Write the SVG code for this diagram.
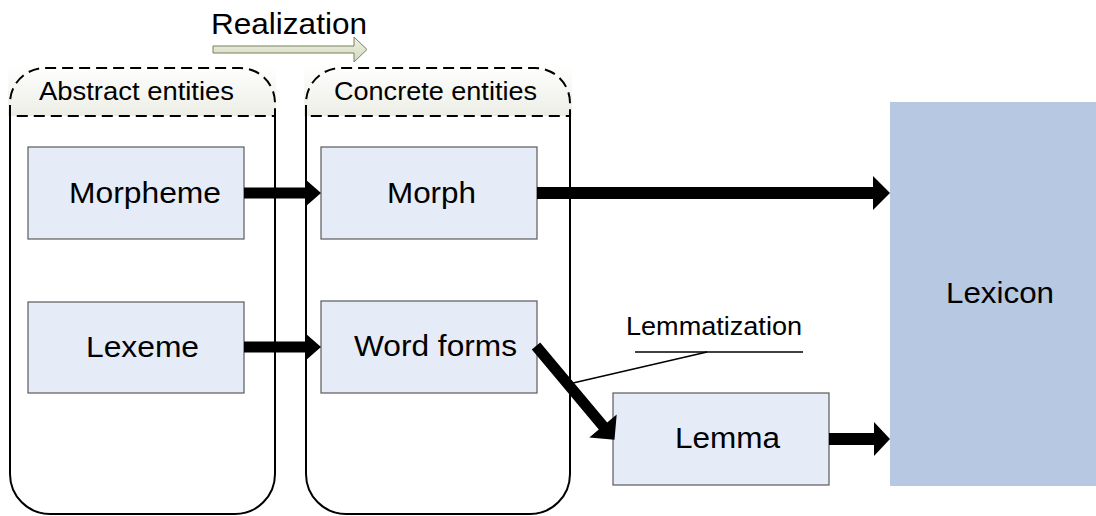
<svg xmlns="http://www.w3.org/2000/svg" width="1096" height="516" viewBox="0 0 1096 516">
  <defs>
    <linearGradient id="hdr" x1="0" y1="0" x2="0" y2="1">
      <stop offset="0" stop-color="#ffffff"/>
      <stop offset="1" stop-color="#eceee6"/>
    </linearGradient>
    <linearGradient id="real" x1="0" y1="0" x2="0" y2="1">
      <stop offset="0" stop-color="#eef1e4"/>
      <stop offset="1" stop-color="#d3dabd"/>
    </linearGradient>
  </defs>
  <style>
    text { font-family: "Liberation Sans", Arial, sans-serif; fill: #000; }
    .big { font-size: 29px; }
    .mid { font-size: 25px; }
    .cont { fill: none; stroke: #000; stroke-width: 2; }
    .hdash { fill: none; stroke: #000; stroke-width: 2; stroke-dasharray: 11 6; }
    .box { fill: #e5ecf7; stroke: #5a5a5a; stroke-width: 1.2; }
    .arrow { fill: #000; }
  </style>

  <g id="realization">
    <polygon points="213,46 354,46 354,37 367,49.5 354,62 354,53 213,53" fill="url(#real)" stroke="#76805e" stroke-width="1"/>
    <text class="big" x="211" y="34" textLength="156" lengthAdjust="spacingAndGlyphs">Realization</text>
  </g>

  <g id="abstract-container">
    <rect x="8" y="66" width="268" height="50" fill="url(#hdr)"/>
    <path class="hdash" d="M10,116 L10,103 A35,35 0 0 1 45,68 L240,68 A35,35 0 0 1 275,103 L275,116 Z"/>
    <path class="cont" d="M10,116 L10,474 A40,40 0 0 0 50,514 L235,514 A40,40 0 0 0 275,474 L275,116"/>
    <text class="mid" x="39" y="100" textLength="195" lengthAdjust="spacingAndGlyphs">Abstract entities</text>
  </g>

  <g id="concrete-container">
    <rect x="304" y="66" width="268" height="50" fill="url(#hdr)"/>
    <path class="hdash" d="M306,116 L306,103 A35,35 0 0 1 341,68 L535,68 A35,35 0 0 1 570,103 L570,116 Z"/>
    <path class="cont" d="M306,116 L306,474 A40,40 0 0 0 346,514 L530,514 A40,40 0 0 0 570,474 L570,116"/>
    <text class="mid" x="334" y="100" textLength="203" lengthAdjust="spacingAndGlyphs">Concrete entities</text>
  </g>

  <g id="morpheme">
    <rect class="box" x="28" y="147" width="216" height="92"/>
    <text class="big" x="69" y="203" textLength="152" lengthAdjust="spacingAndGlyphs">Morpheme</text>
  </g>
  <g id="lexeme">
    <rect class="box" x="28" y="302" width="216" height="91"/>
    <text class="big" x="86" y="357" textLength="113" lengthAdjust="spacingAndGlyphs">Lexeme</text>
  </g>
  <g id="morph">
    <rect class="box" x="321" y="147" width="216" height="92"/>
    <text class="big" x="387" y="203" textLength="89" lengthAdjust="spacingAndGlyphs">Morph</text>
  </g>
  <g id="word-forms">
    <rect class="box" x="321" y="301" width="216" height="92"/>
    <text class="big" x="354" y="356" textLength="163" lengthAdjust="spacingAndGlyphs">Word forms</text>
  </g>
  <g id="lemma">
    <rect class="box" x="613" y="393" width="216" height="92"/>
    <text class="big" x="675" y="448" textLength="105" lengthAdjust="spacingAndGlyphs">Lemma</text>
  </g>
  <g id="lexicon">
    <rect x="890" y="102" width="206" height="384" fill="#b7c8e2"/>
    <text class="big" x="946" y="303" textLength="108" lengthAdjust="spacingAndGlyphs">Lexicon</text>
  </g>

  <g id="lemmatization-label">
    <text class="mid" x="626" y="335" textLength="176" lengthAdjust="spacingAndGlyphs">Lemmatization</text>
    <line x1="635" y1="352" x2="803" y2="352" stroke="#000" stroke-width="1.5"/>
    <line x1="707" y1="352" x2="573" y2="383" stroke="#000" stroke-width="1.5"/>
  </g>

  <g id="connectors">
    <polygon class="arrow" points="244,187.5 305,187.5 305,179 321,193 305,207 305,198.5 244,198.5"/>
    <polygon class="arrow" points="244,341.5 305,341.5 305,333 321,347 305,361 305,352.5 244,352.5"/>
    <polygon class="arrow" points="537,187 873,187 873,176 890,193 873,210 873,199 537,199"/>
    <polygon class="arrow" points="829,433 874,433 874,422 890,439 874,456 874,445 829,445"/>
    <polygon class="arrow" points="540.2,342.5 607.2,422.5 616.7,414.6 614.5,439.8 589.3,437.4 598.8,429.5 531.8,349.5"/>
  </g>
</svg>
